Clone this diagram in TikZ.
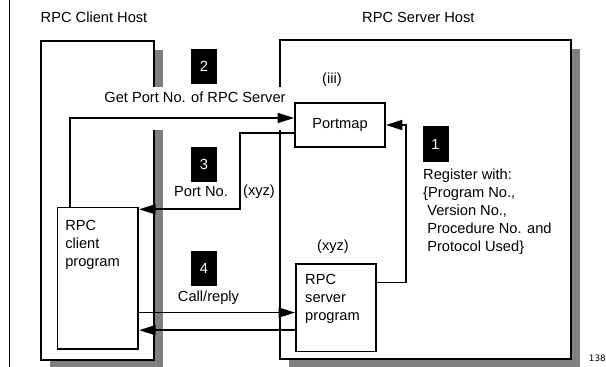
\documentclass[tikz,border=0pt]{standalone}
\usepackage{fontspec}
\setmainfont{Liberation Sans}
\newfontfamily\pagenofont{DejaVu Sans}
\usetikzlibrary{arrows.meta, positioning, shadows}

\begin{document}
\begin{tikzpicture}[
  x=0.03cm, y=-0.03cm,
  % Node styles
  host/.style={draw, fill=white, line width=1.5pt, anchor=north west, inner sep=0pt,
               drop shadow={shadow xshift=0.285cm, shadow yshift=-0.285cm, fill=black!50, opacity=1}},
  prog/.style={draw, fill=white, line width=1.5pt, anchor=north west, inner sep=0pt,
               font=\fontsize{12.5}{15.4}\selectfont},
  badge/.style={fill=black, text=white, minimum width=0.78cm, minimum height=1.06cm,
                inner sep=0pt, font=\fontsize{12.5}{15.4}\selectfont},
  lbl/.style={inner sep=0pt, font=\fontsize{12.5}{15.4}\selectfont, align=left},
  % Arrow styles
  arr/.style={-{Triangle[length=14pt, width=8.5pt]}, line width=1.5pt},
]
  \useasboundingbox (0,0) rectangle (606,367);

  % ── Margin rule ──
  \draw[line width=1.5pt] (9.5,0) -- (9.5,367);

  % ── Hosts ──
  \node[host, minimum width=3.39cm, minimum height=9.57cm] (client) at (40,40) {};
  \node[lbl, anchor=west] (clienttitle) at (40.5,17.5) {RPC Client Host};
  \node[host, minimum width=8.73cm, minimum height=9.57cm] (server) at (279,39) {};
  \node[lbl, anchor=west] (servertitle) at (362,17.5) {RPC Server Host};

  % ── Break in the host edges behind step 2 ──
  \fill[white] (148,87) rectangle (284,130);

  % ── Programs ──
  \node[prog, anchor=center, minimum width=2.7cm, minimum height=1.32cm] (portmap) at (340,125) {Portmap};
  \node[prog, minimum width=2.42cm, minimum height=4.24cm] (clientprog) at (56.7,206.7) {};
  \node[lbl, anchor=north west] (clientprogtext) at ([xshift=0.25cm, yshift=-0.39cm]clientprog.north west) {RPC\\client\\program};
  \node[prog, minimum width=2.4cm, minimum height=2.62cm] (serverprog) at (295,263.3) {};
  \node[lbl, anchor=north west] (serverprogtext) at ([xshift=0.3cm, yshift=-0.31cm]serverprog.north west) {RPC\\server\\program};

  % ── Step badges ──
  \node[badge] (step1) at (435.5,144) {1};
  \node[badge] (step2) at (204,66.8) {2};
  \node[badge] (step3) at (204,164.5) {3};
  \node[badge] (step4) at (204,268.5) {4};

  % ── Labels ──
  \node[lbl] (getport) at (195,97.7) {Get Port No. of RPC Server};
  \node[lbl] (iii) at (332,80) {(iii)};
  \node[lbl] (portno) at (201,191.7) {Port No.};
  \node[lbl] (xyzport) at (259,192) {(xyz)};
  \node[lbl] (xyzserver) at (333,246.7) {(xyz)};
  \node[lbl] (callreply) at (208.5,298) {Call/reply};
  \node[lbl, anchor=north west] (register) at (423,168.6)
    {Register with:\\\{Program No.,\\\ Version No.,\\\ Procedure No. and\\\ Protocol Used\}};
  \node[inner sep=0pt, anchor=east, font=\pagenofont\fontsize{7.5}{9}\selectfont] (pageno) at (606,358) {138};

  % ── Connectors ──
  \coordinate (bend3) at (240,209.3);
  \coordinate (regx) at (406,126);
  \coordinate (callL) at ([yshift=-1.03cm]clientprog.east);
  \coordinate (replyR) at ([yshift=-0.67cm]serverprog.west);

  \draw[arr] ([xshift=0.4cm]clientprog.north west) |- ([yshift=0.21cm]portmap.west);
  \draw[arr] ([yshift=-0.25cm]portmap.west) -| (bend3) -- (bend3 -| clientprog.east);
  \draw[arr] ([yshift=0.76cm]serverprog.east) -| (regx |- portmap.east) -- (portmap.east);
  \draw[arr] (callL) -- (callL -| serverprog.west);
  \draw[arr] (replyR) -- (replyR -| clientprog.east);

\end{tikzpicture}
\end{document}
